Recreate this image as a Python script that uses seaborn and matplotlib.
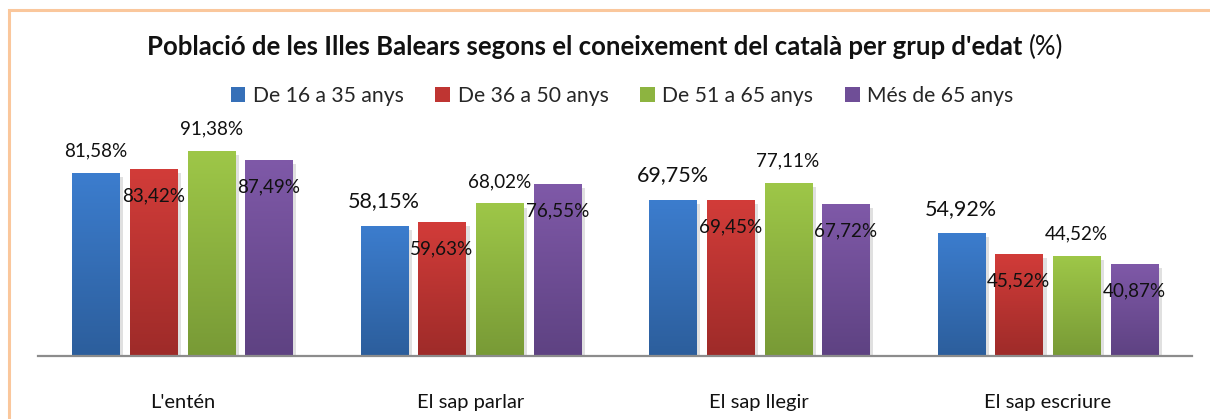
import numpy as np
import pandas as pd
import matplotlib
matplotlib.use("Agg")
import matplotlib.pyplot as plt
import matplotlib.patheffects as pe
from matplotlib.colors import LinearSegmentedColormap, to_rgb
from matplotlib.patches import Rectangle
import seaborn as sns

# ---- data ----
categories = ["L'entén", "El sap parlar", "El sap llegir", "El sap escriure"]
groups = ["De 16 a 35 anys", "De 36 a 50 anys", "De 51 a 65 anys", "Més de 65 anys"]
v_16_35 = [81.58, 58.15, 69.75, 54.92]
v_36_50 = [83.42, 59.63, 69.45, 45.52]
v_51_65 = [91.38, 68.02, 77.11, 44.52]
v_65_mes = [87.49, 76.55, 67.72, 40.87]
title_bold = "Població de les Illes Balears segons el coneixement del català per grup d'edat"
title_unit = "(%)"

series = [v_16_35, v_36_50, v_51_65, v_65_mes]
df = pd.DataFrame({
    "categoria": [c for s in series for c in categories],
    "grup": [g for g, s in zip(groups, series) for _ in categories],
    "valor": [v for s in series for v in s],
})

# ---- style ----
sns.set_theme(style="white")
plt.rcParams["font.family"] = ["Lato", "DejaVu Sans"]

top_cols = ["#3C7DCE", "#D23C39", "#9EC748", "#7F59A8"]
bot_cols = ["#2C5E9C", "#9E2B29", "#789A36", "#5E4282"]
mid_cols = ["#3670B8", "#BF3532", "#8DB440", "#6F4E97"]

W, H = 1210, 419
fig = plt.figure(figsize=(W / 100, H / 100), dpi=100)
ax_left, ax_right, ax_bot = 38 / W, 1192 / W, (H - 356) / H
ax_h = 224.3 / H
ax = fig.add_axes([ax_left, ax_bot, ax_right - ax_left, ax_h])

sns.barplot(data=df, x="categoria", y="valor", hue="grup", order=categories,
            hue_order=groups, palette=mid_cols, width=0.8, gap=0.185,
            ax=ax, legend=True, saturation=1)

ax.set_ylim(0, 100)
ax.set_xlim(-0.5, 3.5)

# gradient fill + shadow for each bar
for hi, cont in enumerate(ax.containers):
    cmap = LinearSegmentedColormap.from_list(
        f"g{hi}", [to_rgb(bot_cols[hi]), to_rgb(top_cols[hi])])
    grad = np.linspace(0, 1, 256).reshape(-1, 1)
    for bar in cont:
        x, w, h = bar.get_x(), bar.get_width(), bar.get_height()
        bar.set_edgecolor("none")
        bar.set_path_effects([pe.SimplePatchShadow(offset=(3, -3), shadow_rgbFace="#000000", alpha=0.12),
                              pe.Normal()])
        im = ax.imshow(grad, extent=[x, x + w, 0, h], origin="lower", cmap=cmap,
                       aspect="auto", zorder=bar.get_zorder() + 0.1, interpolation="bilinear")
        im.set_clip_path(bar)

ax.set_ylim(0, 100)
ax.set_xlim(-0.5, 3.5)

# data labels
for hi, cont in enumerate(ax.containers):
    for ci, bar in enumerate(cont):
        v = bar.get_height()
        xc = bar.get_x() + bar.get_width() / 2
        txt = f"{v:.2f}".replace(".", ",") + "%"
        if hi in (0, 2):
            big = (hi == 0 and ci > 0)
            off = 24 if big else 22
            fs = 15.5 if big else 13.6
        else:
            off = -27
            fs = 13.6
        ax.annotate(txt, (xc, v), xytext=(0, off), textcoords="offset pixels",
                    ha="center", va="center", fontsize=fs, color="#111111", zorder=10)

# axes styling
for s in ["top", "right", "left"]:
    ax.spines[s].set_visible(False)
ax.spines["bottom"].set_color("#8C8C8C")
ax.spines["bottom"].set_linewidth(1.6)
ax.set_yticks([])
ax.set_xlabel("")
ax.set_ylabel("")
ax.tick_params(axis="x", length=0, pad=27, labelsize=14.5, labelcolor="#111111")
ax.patch.set_alpha(0)

# legend
sns.move_legend(ax, loc="center", bbox_to_anchor=(622 / W, 1 - 96 / H),
                bbox_transform=fig.transFigure, ncol=4, frameon=False, title=None,
                fontsize=15.2, handlelength=0.7, handleheight=0.7, handletextpad=0.35,
                columnspacing=1.5)
for hi, h in enumerate(ax.get_legend().legend_handles):
    h.set_facecolor(mid_cols[hi])
    h.set_edgecolor("none")

# title: bold part + regular unit
TFS = 18.5
tb = fig.text(0.5, 1 - 47 / H, title_bold + " ", ha="center", va="center",
              fontsize=TFS, fontweight="bold", color="#111111")
fig.canvas.draw()
bb = tb.get_window_extent()
unit = fig.text(0, 0, title_unit, fontsize=TFS, color="#111111", va="center")
ub = unit.get_window_extent()
total = bb.width + ub.width
x0 = W / 2 - total / 2
tb.set_ha("left")
tb.set_position((x0 / W, 1 - 47 / H))
unit.set_position(((x0 + bb.width) / W, 1 - 47 / H))

# outer border (peach)
fig.add_artist(Rectangle((9 / W, -0.2), 1.2, 1.2 - 10 / H, transform=fig.transFigure,
                         fill=False, edgecolor="#FAC79C", linewidth=2.2))

fig.savefig("out.png", dpi=100)
